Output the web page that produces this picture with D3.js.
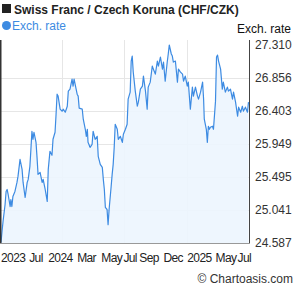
<!DOCTYPE html>
<html><head><meta charset="utf-8">
<script src="https://cdn.jsdelivr.net/npm/d3@7"></script>
<style>body{margin:0;background:#fff}svg{display:block;font-family:"Liberation Sans",Arial,sans-serif}</style>
</head><body>
<script>
const title = "Swiss Franc / Czech Koruna (CHF/CZK)";
const seriesName = "Exch. rate";
// days since start of period
const days = [0,3,6,12,15,18,21,27,29,32,35,41,47,50,56,62,65,71,77,80,85,88,91,94,97,103,106,109,115,121,124,130,136,139,144,150,153,159,162,165,168,174,180,183,189,195,198,203,206,209,212,215,221,224,227,230,239,242,248,251,254,256,262,268,271,277,283,286,292,298,301,304,307,312,315,318,324,327,330,333,336,342,345,351,357,360,366,371,374,380,383,386,389,395,401,404,410,416,419,425,430,433,439,445,448,454,460,463,469,475,478,483,489,492,495,501,504,507,513,519,522,528,534,537,542,548,551,557,563,566,572,578,581,587,593,596,598,604,607,610,613,616,622,625,631,634,637,640,646,651,654,660,666,669,675,681,684,690,696,699,705,710,713,719,725,728];
const rates = [24.587,24.738,24.876,25.111,25.291,25.318,25.249,25.083,25.180,25.083,25.222,25.291,25.415,25.498,25.733,25.595,25.415,25.208,25.415,25.457,25.637,25.872,26.121,26.010,26.107,25.968,25.761,25.526,25.554,25.415,25.457,25.318,25.153,25.595,25.844,25.789,26.010,26.107,26.356,26.632,26.605,26.425,26.397,26.425,26.383,26.466,26.674,26.701,26.771,26.840,26.743,26.840,26.701,26.632,26.605,26.439,26.425,26.287,26.148,26.051,26.148,25.968,25.899,25.941,26.121,26.010,26.051,25.775,25.664,25.623,25.457,25.318,25.070,25.042,24.834,25.042,25.360,25.526,25.664,25.899,26.217,26.148,26.010,26.051,25.968,26.079,26.148,26.217,26.563,26.660,27.089,27.158,26.937,26.674,26.466,26.522,26.701,26.743,26.881,26.674,26.425,26.729,26.798,27.020,26.978,26.909,27.089,27.020,27.144,26.978,27.075,26.812,27.075,27.186,27.310,27.186,27.158,27.075,27.089,26.798,26.978,26.937,26.909,26.812,26.881,26.743,26.798,26.425,26.729,26.605,26.729,26.605,26.563,26.660,26.798,26.563,26.287,26.148,25.968,26.190,26.148,26.176,26.190,26.148,26.536,27.144,27.172,27.089,26.978,26.701,26.798,26.660,26.729,26.674,26.701,26.563,26.660,26.522,26.328,26.453,26.383,26.466,26.397,26.453,26.383,26.522];
const yTicks = [24.587,25.041,25.495,25.949,26.403,26.856,27.310];
const xLabels = ["2023","Jul","2024","Mar","May","Jul","Sep","Dec","2025","May","Jul"];
const xLabelDays = [0,83,139,224,295,360,407,478,548,631,696];
const gridDays = [180,363,546];

const W=295,H=288;
const pL=1,pR=249.5,pT=40,pB=243.5;
const blue="#3d8be2";
const svg=d3.select("body").append("svg").attr("width",W).attr("height",H);
const x=d3.scaleLinear().domain([0,731]).range([pL,pR]);
const y=d3.scaleLinear().domain([24.587,27.310]).range([242.5,45]);
const n=Math.min(days.length,rates.length);
const data=d3.range(n).map(i=>({d:days[i],v:rates[i]}));

// grid
svg.append("g").selectAll("line").data(yTicks.slice(1,-1)).join("line")
  .attr("x1",pL).attr("x2",pR).attr("y1",d=>Math.round(y(d))+0.5).attr("y2",d=>Math.round(y(d))+0.5)
  .attr("stroke","#e6e6e6");
svg.append("g").selectAll("line").data(gridDays).join("line")
  .attr("x1",d=>Math.round(x(d))+0.5).attr("x2",d=>Math.round(x(d))+0.5).attr("y1",pT).attr("y2",pB)
  .attr("stroke","#e6e6e6");

// area
svg.append("path").datum(data)
  .attr("d",d3.area().x(p=>x(p.d)).y0(pB).y1(p=>y(p.v)))
  .attr("fill","#ecf5fe").attr("opacity",0.9);
svg.append("path").datum(data)
  .attr("d",d3.line().x(p=>x(p.d)).y(p=>y(p.v)))
  .attr("fill","none").attr("stroke",blue).attr("stroke-width",1.2).attr("stroke-linejoin","round");

// axes lines
svg.append("line").attr("x1",0.75).attr("x2",0.75).attr("y1",pT).attr("y2",pB).attr("stroke","#333").attr("stroke-width",1.5);
svg.append("line").attr("x1",pR).attr("x2",pR).attr("y1",pT).attr("y2",pB).attr("stroke","#444");
svg.append("line").attr("x1",pL).attr("x2",pR).attr("y1",pB).attr("y2",pB).attr("stroke","#999");

// right axis labels
svg.append("g").selectAll("text").data(yTicks).join("text")
  .attr("x",255).attr("y",d=>y(d)).attr("dy","0.35em")
  .attr("font-size",12).attr("fill","#333").text(d=>d.toFixed(3));

// x labels
svg.append("g").selectAll("text").data(xLabels).join("text")
  .attr("x",(d,i)=>x(xLabelDays[i])).attr("y",262).attr("text-anchor","start")
  .attr("font-size",12).attr("letter-spacing",-0.6).attr("fill","#222").text(d=>d);

// title
svg.append("rect").attr("x",2).attr("y",4).attr("width",9).attr("height",9).attr("fill","#222");
svg.append("text").attr("x",14).attr("y",13.5).attr("font-size",12).attr("font-weight","bold").attr("fill","#222").text(title);
svg.append("circle").attr("cx",6.5).attr("cy",25.5).attr("r",4.5).attr("fill",blue);
svg.append("text").attr("x",12).attr("y",30).attr("font-size",12).attr("fill",blue).text(seriesName);
svg.append("text").attr("x",291).attr("y",33).attr("text-anchor","end").attr("font-size",12).attr("fill","#111").text(seriesName);
svg.append("text").attr("x",293).attr("y",283).attr("text-anchor","end").attr("font-size",12).attr("fill","#333").text("© Chartoasis.com");
</script>
</body></html>
